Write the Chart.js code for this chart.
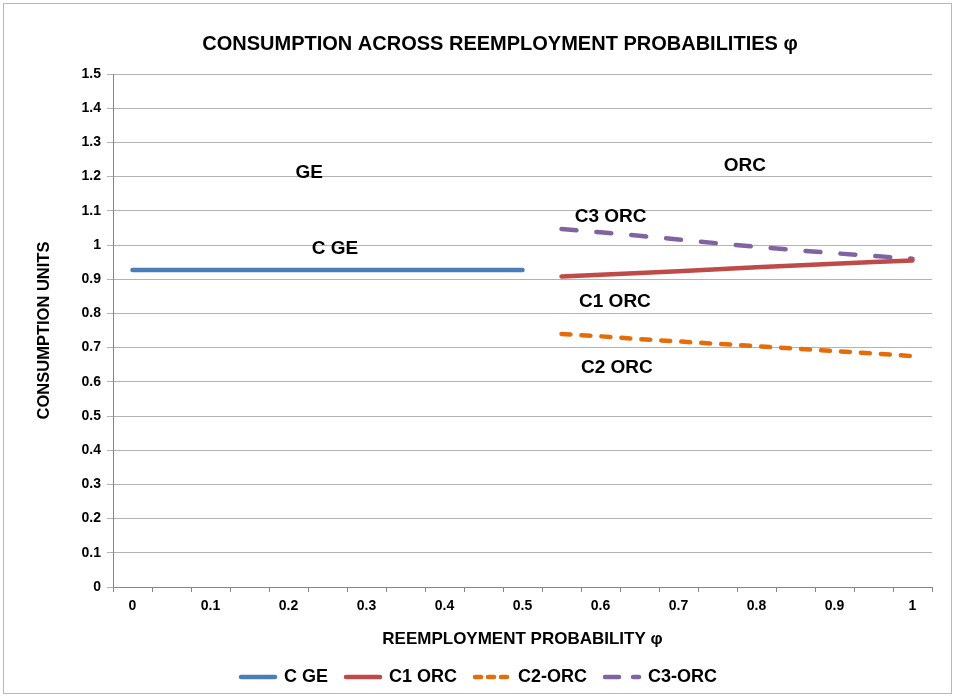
<!DOCTYPE html>
<html>
<head>
<meta charset="utf-8">
<script src="https://cdn.jsdelivr.net/npm/chart.js@4.4.0/dist/chart.umd.min.js"></script>
<style>
  body { margin: 0; background: #fff; }
  #wrap { position: relative; width: 957px; height: 698px; }
</style>
</head>
<body>
<div id="wrap"><canvas id="chart" width="957" height="698"></canvas></div>
<script>
"use strict";

// categories: reemployment probability phi, step 0.05
const categories = ['0', '0.05', '0.1', '0.15', '0.2', '0.25', '0.3', '0.35', '0.4', '0.45', '0.5',
    '0.55', '0.6', '0.65', '0.7', '0.75', '0.8', '0.85', '0.9', '0.95', '1'];

const cGE = [0.927, 0.927, 0.927, 0.927, 0.927, 0.927, 0.927, 0.927, 0.927, 0.927, 0.927,
    null, null, null, null, null, null, null, null, null, null];
const c1ORC = [null, null, null, null, null, null, null, null, null, null, null,
    0.908, 0.913, 0.918, 0.923, 0.929, 0.935, 0.940, 0.945, 0.950, 0.955];
const c2ORC = [null, null, null, null, null, null, null, null, null, null, null,
    0.740, 0.733, 0.725, 0.718, 0.711, 0.704, 0.697, 0.690, 0.683, 0.675];
const c3ORC = [null, null, null, null, null, null, null, null, null, null, null,
    1.047, 1.037, 1.027, 1.016, 1.005, 0.995, 0.985, 0.976, 0.968, 0.960];

const chartTitle = 'CONSUMPTION ACROSS REEMPLOYMENT PROBABILITIES φ';

// text boxes inside the plot: [text, category index, y value]
const notes = [
    ['GE', 4.53, 1.21],
    ['ORC', 15.7, 1.231],
    ['C3 ORC', 12.26, 1.084],
    ['C GE', 5.19, 0.988],
    ['C1 ORC', 12.37, 0.834],
    ['C2 ORC', 12.42, 0.64]
];

// dash patterns of the legend samples (shorter than on the plot)
const legendDash = [[], [], [6, 7], [14, 14]];

const FONT = "'Liberation Sans', Arial, sans-serif";

const notesPlugin = {
    id: 'notes',
    afterLayout(chart) {
        // legend sits centred on the whole canvas, not on the padded box
        chart.legend.left += 13;
        chart.legend.right += 13;
    },
    afterDatasetsDraw(chart) {
        const c = chart.ctx;
        const x = chart.scales.x, y = chart.scales.y;
        c.save();
        c.fillStyle = '#000';
        c.textAlign = 'center';
        c.textBaseline = 'middle';
        c.font = "bold 19px " + FONT;
        notes.forEach(n => {
            c.fillText(n[0], x.getPixelForValue(n[1]), y.getPixelForValue(n[2]));
        });
        // chart title
        c.font = "bold 20px " + FONT;
        c.fillText(chartTitle, 500, 44);
        c.restore();
    }
};

const borderPlugin = {
    id: 'frame',
    afterDraw(chart) {
        const c = chart.ctx;
        c.save();
        c.strokeStyle = '#b8b8b8';
        c.lineWidth = 1;
        c.strokeRect(3.5, 3.5, 948, 690);
        c.restore();
    }
};

function line(label, data, color, dash) {
    return {
        label: label,
        data: data,
        borderColor: color,
        backgroundColor: color,
        borderWidth: 4.5,
        borderDash: dash,
        borderCapStyle: 'round',
        pointRadius: 0,
        pointHoverRadius: 0,
        tension: 0,
        spanGaps: false,
        fill: false
    };
}

new Chart(document.getElementById('chart').getContext('2d'), {
    type: 'line',
    data: {
        labels: categories,
        datasets: [
            line('C GE', cGE, '#4A7EBB', []),
            line('C1 ORC', c1ORC, '#BE4B48', []),
            line('C2-ORC', c2ORC, '#E46C0A', [9, 11]),
            line('C3-ORC', c3ORC, '#8064A2', [15, 20])
        ]
    },
    options: {
        responsive: false,
        animation: false,
        layout: { padding: { left: 0, right: 25, top: 74, bottom: 2 } },
        plugins: {
            tooltip: { enabled: false },
            title: { display: false },
            legend: {
                position: 'bottom',
                labels: {
                    usePointStyle: true,
                    pointStyle: 'line',
                    pointStyleWidth: 34,
                    color: '#000',
                    font: { family: FONT, size: 18, weight: 'bold' },
                    padding: 18,
                    generateLabels(chart) {
                        const items = Chart.defaults.plugins.legend.labels.generateLabels(chart);
                        items.forEach(it => {
                            const ds = chart.data.datasets[it.datasetIndex];
                            it.lineDash = legendDash[it.datasetIndex];
                            it.lineWidth = 4.5;
                            it.lineCap = 'round';
                            it.strokeStyle = ds.borderColor;
                            it.fillStyle = ds.borderColor;
                        });
                        return items;
                    }
                }
            }
        },
        scales: {
            x: {
                type: 'category',
                offset: true,
                afterFit(s) { s.height = 63; },
                grid: { offset: true, drawOnChartArea: false, tickLength: 5, color: '#868686' },
                border: { color: '#868686' },
                ticks: {
                    autoSkip: false,
                    maxRotation: 0,
                    color: '#000',
                    padding: 6,
                    font: { family: FONT, size: 14, weight: 'bold' },
                    callback: function (v, i) { return i % 2 === 0 ? this.getLabelForValue(v) : ''; }
                },
                title: {
                    display: true,
                    text: 'REEMPLOYMENT PROBABILITY φ',
                    color: '#000',
                    font: { family: FONT, size: 17, weight: 'bold' },
                    padding: { top: 9, bottom: 0 }
                }
            },
            y: {
                min: 0,
                max: 1.5,
                afterFit(s) { s.width = 113; },
                grid: { color: '#b3b3b3', tickLength: 6, lineWidth: 1 },
                border: { color: '#868686' },
                ticks: {
                    stepSize: 0.1,
                    color: '#000',
                    padding: 6,
                    font: { family: FONT, size: 14, weight: 'bold' },
                    callback: v => Math.round(v * 10) / 10
                },
                title: {
                    display: true,
                    text: 'CONSUMPTION UNITS',
                    color: '#000',
                    font: { family: FONT, size: 16.5, weight: 'bold' },
                    padding: { top: 35 }
                }
            }
        }
    },
    plugins: [notesPlugin, borderPlugin]
});
</script>
</body>
</html>
